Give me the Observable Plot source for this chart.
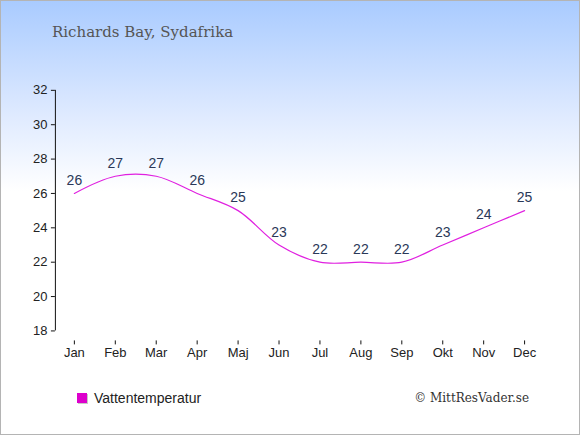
<!DOCTYPE html>
<html>
<head>
<meta charset="utf-8">
<script src="https://cdn.jsdelivr.net/npm/d3@7"></script>
<script src="https://cdn.jsdelivr.net/npm/@observablehq/plot@0.6"></script>
<style>
  html, body { margin: 0; padding: 0; }
  #wrap {
    position: relative; width: 578px; height: 433px;
    border: 1px solid #b4b4b4;
    background: linear-gradient(to bottom, #a9cbff 0px, #dde9ff 110px, #ffffff 190px, #ffffff 100%);
    overflow: hidden;
  }
  #title {
    position: absolute; left: 51px; top: 22px;
    font-family: "DejaVu Serif", serif; font-size: 15px; color: #555;
  }
  #chart { position: absolute; left: -1px; top: -1px; }
  #legend {
    position: absolute; left: 76px; top: 389px;
    font-family: "Liberation Sans", Arial, sans-serif; font-size: 14px; color: #222;
    display: flex; align-items: center;
  }
  #legend .sw { width: 10px; height: 10px; background: #dd00cc; margin-right: 7px; box-shadow: 1px 1px 0 #c8c8c8; }
  #copy {
    position: absolute; right: 50px; top: 390px;
    font-family: "DejaVu Serif", serif; font-size: 12px; color: #333;
  }
</style>
</head>
<body>
<div id="wrap">
  <div id="title">Richards Bay, Sydafrika</div>
  <div id="chart"></div>
  <div id="legend"><span class="sw"></span><span>Vattentemperatur</span></div>
  <div id="copy">© MittResVader.se</div>
</div>
<script>
const months = ["Jan","Feb","Mar","Apr","Maj","Jun","Jul","Aug","Sep","Okt","Nov","Dec"];
const waterTemp = [26,27,27,26,25,23,22,22,22,23,24,25];
const yTicks = [18,20,22,24,26,28,30,32];

const data = months.map((m, i) => ({month: m, temp: waterTemp[i]}));

const chart = Plot.plot({
  width: 580,
  height: 380,
  marginLeft: 55,
  marginRight: 55,
  marginTop: 90,
  marginBottom: 39,
  insetLeft: 19,
  insetBottom: 10,
  style: {background: "transparent", fontFamily: "'Liberation Sans', Arial, sans-serif", fontSize: "13px", color: "#222"},
  x: {type: "point", domain: months, padding: 0},
  y: {domain: [18, 32]},
  marks: [
    Plot.ruleY([18], {x1: months[0], x2: months[months.length - 1], dy: 10, stroke: "#111"}),
    Plot.ruleX([months[0]], {y1: 18, y2: 32, dx: -19, stroke: "#111"}),
    Plot.axisX({anchor: "bottom", tickSize: 4, tickPadding: 3, label: null, stroke: "#111", fill: "#222", fontSize: 13}),
    Plot.axisY({anchor: "left", ticks: yTicks, tickSize: 4, tickPadding: 4, label: null, stroke: "#111", fill: "#222", fontSize: 13}),
    Plot.line(data, {x: "month", y: "temp", curve: "catmull-rom", stroke: "#e020e0", strokeWidth: 1.2}),
    Plot.text(data, {x: "month", y: "temp", text: d => String(d.temp), dy: -13, fill: "#2a3858", fontSize: 14})
  ]
});
document.getElementById("chart").appendChild(chart);
</script>
</body>
</html>
